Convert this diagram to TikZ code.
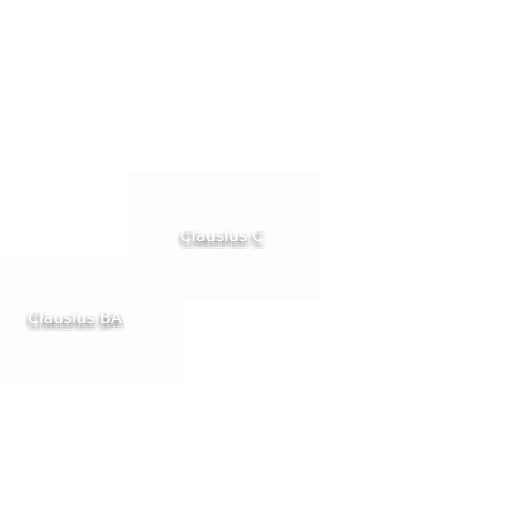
\documentclass[tikz,border=0pt]{standalone}
\usepackage{fontspec}
\setmainfont{DejaVu Sans}
\begin{document}
\begin{tikzpicture}[x=1pt,y=-1pt,
  lbl/.style={font=\fontsize{16}{18}\selectfont, inner sep=0pt, text=white},
  shadowtxt/.style={font=\fontsize{16}{18}\selectfont, inner sep=0pt, text=black, opacity=0.028},
  panel/.style={fill=black!0.8, draw=none}]
\useasboundingbox[fill=white] (0,0) rectangle (512,512);
\fill[panel] (128,172) rectangle (322,300);
\fill[panel] (0,255) rectangle (183,385);
\fill[black!0.5] (0,385) rectangle (2,470);
\foreach \dx in {-3.6,-1.8,0,1.8,3.6}{
  \foreach \dy in {0.5,2.3,4.1,5.9,7.7}{
    \node[shadowtxt] at (222+\dx,236+\dy) {Clausius C};
    \node[shadowtxt] at (75+\dx,318+\dy) {Clausius BA};
  }
}
\node[lbl] (c) at (222,236) {Clausius C};
\node[lbl] (ba) at (75,318) {Clausius BA};
\end{tikzpicture}
\end{document}
